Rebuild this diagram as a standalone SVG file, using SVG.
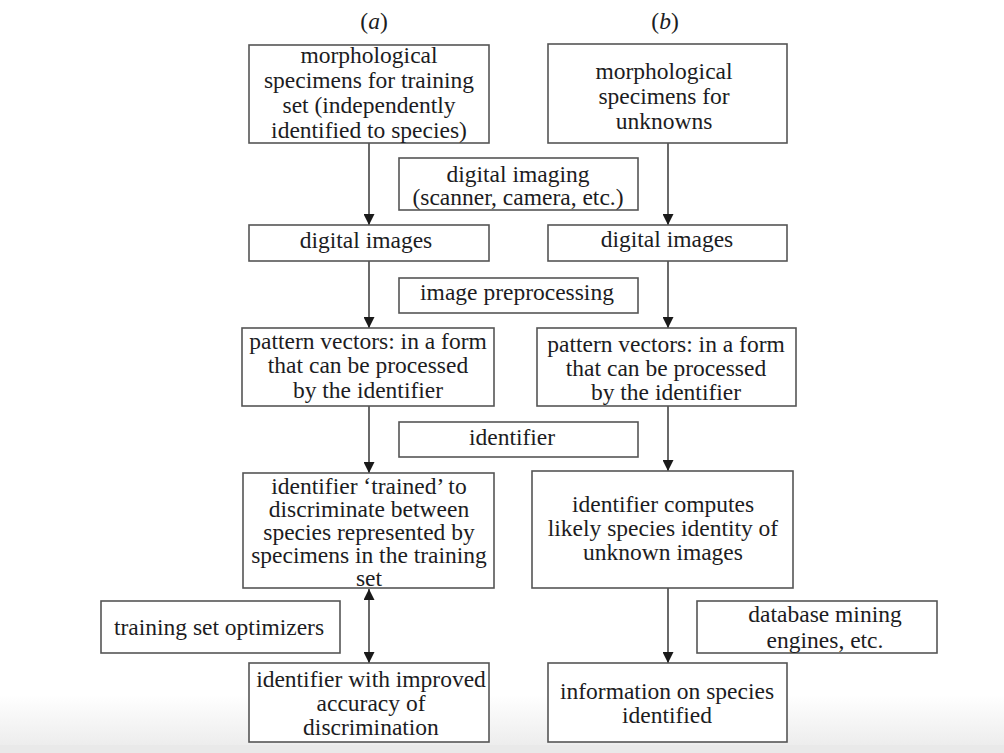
<svg xmlns="http://www.w3.org/2000/svg" width="1004" height="753" viewBox="0 0 1004 753">
<style>
.box{fill:#fff;stroke:#555;stroke-width:1.6}
.t{font-family:"Liberation Serif","Times New Roman",serif;font-size:23.5px;fill:#1c1c22;text-anchor:middle}
.c{stroke:#444;stroke-width:1.6;fill:none}
</style>
<defs>
<linearGradient id="bg" x1="0" y1="0" x2="0" y2="1">
<stop offset="0" stop-color="#ffffff"/>
<stop offset="1" stop-color="#ededed"/>
</linearGradient>
<marker id="ah" viewBox="0 0 10 10" refX="10" refY="5" markerWidth="11" markerHeight="11" markerUnits="userSpaceOnUse" orient="auto-start-reverse">
<path d="M0,0 L10,5 L0,10 z" fill="#1a1a1a"/>
</marker>
</defs>
<rect x="0" y="0" width="1004" height="753" fill="#fff"/>
<rect x="0" y="695" width="1004" height="50" fill="url(#bg)"/>
<rect x="0" y="745" width="1004" height="8" fill="#e9e9e9"/>

<g id="label-a"><text class="t" x="374" y="29">(<tspan font-style="italic">a</tspan>)</text></g>
<g id="label-b"><text class="t" x="665" y="29">(<tspan font-style="italic">b</tspan>)</text></g>

<g id="connectors">
<line class="c" x1="369" y1="143" x2="369" y2="225" marker-end="url(#ah)"/>
<line class="c" x1="369" y1="261" x2="369" y2="328" marker-end="url(#ah)"/>
<line class="c" x1="369" y1="406" x2="369" y2="473" marker-end="url(#ah)"/>
<line class="c" x1="369" y1="589" x2="369" y2="663" marker-start="url(#ah)" marker-end="url(#ah)"/>
<line class="c" x1="668" y1="143" x2="668" y2="225" marker-end="url(#ah)"/>
<line class="c" x1="668" y1="261" x2="668" y2="328" marker-end="url(#ah)"/>
<line class="c" x1="668" y1="406" x2="668" y2="471" marker-end="url(#ah)"/>
<line class="c" x1="668" y1="588" x2="668" y2="663" marker-end="url(#ah)"/>
</g>

<g id="a-specimens">
<rect class="box" x="249" y="45" width="240" height="98"/>
<text class="t" x="369" y="63">morphological</text>
<text class="t" x="369" y="88">specimens for training</text>
<text class="t" x="369" y="113">set (independently</text>
<text class="t" x="369" y="138">identified to species)</text>
</g>
<g id="b-specimens">
<rect class="box" x="548" y="44" width="239" height="99"/>
<text class="t" x="664" y="79">morphological</text>
<text class="t" x="664" y="104">specimens for</text>
<text class="t" x="664" y="129">unknowns</text>
</g>
<g id="digital-imaging">
<rect class="box" x="399" y="158" width="239" height="52"/>
<text class="t" x="518" y="182">digital imaging</text>
<text class="t" x="518" y="205">(scanner, camera, etc.)</text>
</g>
<g id="a-digital-images">
<rect class="box" x="249" y="225" width="240" height="36"/>
<text class="t" x="366" y="248">digital images</text>
</g>
<g id="b-digital-images">
<rect class="box" x="548" y="225" width="239" height="36"/>
<text class="t" x="667" y="247">digital images</text>
</g>
<g id="image-preprocessing">
<rect class="box" x="399" y="278" width="239" height="35"/>
<text class="t" x="517" y="300">image preprocessing</text>
</g>
<g id="a-pattern-vectors">
<rect class="box" x="242" y="328" width="252" height="78"/>
<text class="t" x="368" y="349">pattern vectors: in a form</text>
<text class="t" x="368" y="373">that can be processed</text>
<text class="t" x="368" y="398">by the identifier</text>
</g>
<g id="b-pattern-vectors">
<rect class="box" x="537" y="328" width="259" height="78"/>
<text class="t" x="666" y="352">pattern vectors: in a form</text>
<text class="t" x="666" y="376">that can be processed</text>
<text class="t" x="666" y="400">by the identifier</text>
</g>
<g id="identifier">
<rect class="box" x="399" y="422" width="239" height="35"/>
<text class="t" x="512" y="445">identifier</text>
</g>
<g id="a-trained">
<rect class="box" x="243" y="473" width="251" height="115"/>
<text class="t" x="369" y="494">identifier ‘trained’ to</text>
<text class="t" x="369" y="517">discriminate between</text>
<text class="t" x="369" y="540">species represented by</text>
<text class="t" x="369" y="563">specimens in the training</text>
<text class="t" x="369" y="586">set</text>
</g>
<g id="b-computes">
<rect class="box" x="532" y="471" width="261" height="117"/>
<text class="t" x="663" y="512">identifier computes</text>
<text class="t" x="663" y="536">likely species identity of</text>
<text class="t" x="663" y="560">unknown images</text>
</g>
<g id="training-set-optimizers">
<rect class="box" x="101" y="601" width="239" height="52"/>
<text class="t" x="219" y="635">training set optimizers</text>
</g>
<g id="database-mining">
<rect class="box" x="697" y="601" width="240" height="52"/>
<text class="t" x="825" y="622">database mining</text>
<text class="t" x="825" y="648">engines, etc.</text>
</g>
<g id="a-improved">
<rect class="box" x="249" y="663" width="240" height="79"/>
<text class="t" x="371" y="687">identifier with improved</text>
<text class="t" x="371" y="711">accuracy of</text>
<text class="t" x="371" y="735">discrimination</text>
</g>
<g id="b-information">
<rect class="box" x="548" y="663" width="239" height="79"/>
<text class="t" x="667" y="699">information on species</text>
<text class="t" x="667" y="723">identified</text>
</g>
</svg>
